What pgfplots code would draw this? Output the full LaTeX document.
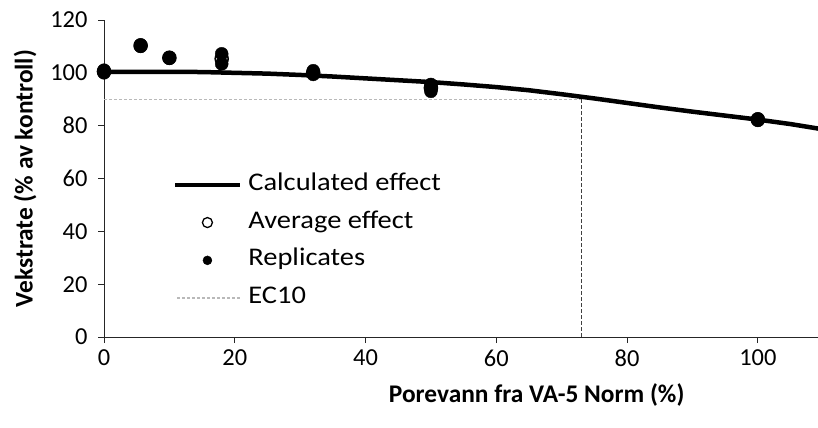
\documentclass[border=0pt]{standalone}
\usepackage{pgfplots}
\pgfplotsset{compat=1.18}
\usepackage{fontspec}
\setmainfont{Carlito}
\newfontfamily\legfont[FakeStretch=1.12]{Carlito}
\pgfplotsset{
  longline legend/.style={legend image code/.code={\draw[##1] (0bp,0bp) -- (65bp,0bp); \path[draw=none,fill=none] (0bp,0bp) -- (73bp,0bp);}},
  ecline legend/.style={legend image code/.code={\draw[##1] (2bp,0bp) -- (65bp,0bp); \path[draw=none,fill=none] (0bp,0bp) -- (73bp,0bp);}},
  opencirc legend/.style={legend image code/.code={\draw[black, fill=white, line width=1.3bp] (32bp,0bp) circle (5bp); \path[draw=none,fill=none] (0bp,0bp) -- (73bp,0bp);}},
  dot legend/.style={legend image code/.code={\fill[black] (32bp,0bp) circle (4.5bp); \path[draw=none,fill=none] (0bp,0bp) -- (73bp,0bp);}},
}
\begin{document}
\begin{tikzpicture}
\useasboundingbox (0,0) rectangle (818bp,428bp);
\begin{axis}[
  at={(104bp,91bp)}, anchor=south west,
  scale only axis, width=714bp, height=317bp,
  xmin=0, xmax=109.2, ymin=0, ymax=120,
  axis lines=left,
  axis line style={-, line width=0.9bp, black!85},
  xtick={0,20,...,100}, ytick={0,20,...,120},
  tick align=outside, major tick length=6bp,
  tick style={black!85, line width=0.9bp},
  clip mode=individual,
  /pgf/number format/assume math mode=true,
  ticklabel style={font=\fontsize{24.5}{28}\selectfont},
  xticklabel style={yshift=-3bp},
  yticklabel style={xshift=-7bp},
  xlabel={Porevann fra VA-5 Norm (\%)},
  ylabel={Vekstrate (\% av kontroll)},
  label style={font=\bfseries\fontsize{25.5}{30}\selectfont},
  xlabel style={at={(axis description cs:0.606,-0.183)}, anchor=center},
  ylabel style={at={(axis description cs:-0.1106,0.5)}, anchor=center},
  legend cell align=left,
  legend style={draw=none, fill=none, inner sep=0pt,
    at={(axis description cs:0.0966,0.514)}, anchor=north west,
    font=\legfont\fontsize{25.5}{30}\selectfont,
    nodes={inner sep=0pt, text height=16bp, text depth=5bp},
    row sep=16.8bp},
]
% Calculated effect (fitted curve)
\addplot[black, line width=4.5bp, line join=round, longline legend]
  coordinates {
  (0,100.3) (5,100.4) (10,100.4) (15,100.3) (20,100.0) (25,99.7) (30,99.2)
  (35,98.6) (40,97.9) (45,97.2) (50,96.5) (55,95.6) (60,94.6) (65,93.4)
  (70,91.9) (75,90.3) (80,88.6) (85,86.9) (90,85.3) (95,83.8) (100,82.3)
  (105,80.6) (110,78.6)};
\addlegendentry{Calculated effect}
% Average effect
\addplot[only marks, mark=*, mark size=6.5bp,
  mark options={fill=white, draw=black, line width=1.6bp}, opencirc legend]
  coordinates {
  (0,100.5) (5.6,110.3) (10,105.7) (18,105.3) (32,100.0) (50,94.3) (100,82.3)};
\addlegendentry{Average effect}
% Replicates
\addplot[only marks, mark=*, mark size=6.5bp, mark options={fill=black, draw=black}, dot legend]
  coordinates {
  (0,100) (0,101) (5.6,110.6) (5.6,110.0) (10,105.8) (10,105.5)
  (18,107.2) (18,103.4) (32,100.8) (32,99.4) (50,95.6) (50,93.0)
  (100,82.6) (100,82.0)};
\addlegendentry{Replicates}
% EC10
\addplot[gray!55, line width=1.4bp, dash pattern=on 2.5bp off 2.5bp, ecline legend]
  coordinates {(0,90) (73,90)};
\addlegendentry{EC10}
\addplot[black!75, line width=1bp, dash pattern=on 4bp off 2bp, forget plot]
  coordinates {(73,0) (73,90)};
\end{axis}
\end{tikzpicture}
\end{document}
